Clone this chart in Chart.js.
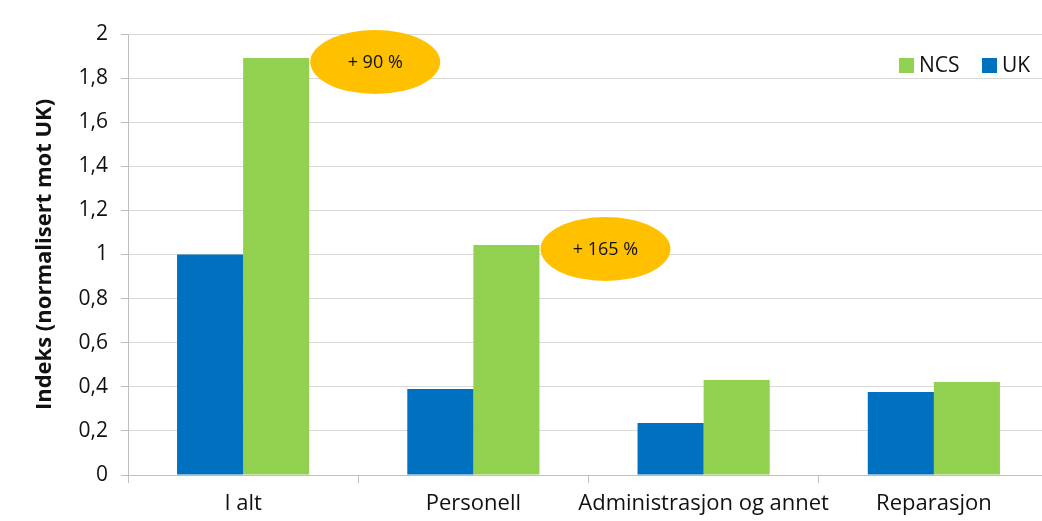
<!DOCTYPE html>
<html>
<head>
<meta charset="utf-8">
<script src="https://cdn.jsdelivr.net/npm/chart.js@4/dist/chart.umd.min.js"></script>
<style>
  html, body { margin: 0; padding: 0; background: #fff; overflow: hidden; }
  #wrap { width: 1060px; height: 521px; }
</style>
</head>
<body>
<div id="wrap"><canvas id="chart" width="1060" height="521"></canvas></div>
<script>
const kategorier = ["I alt", "Personell", "Administrasjon og annet", "Reparasjon"]
const ukVerdier = [1.0, 0.39, 0.236, 0.376]
const ncsVerdier = [1.891, 1.043, 0.431, 0.422]
const yTicks = [0, 0.2, 0.4, 0.6, 0.8, 1, 1.2, 1.4, 1.6, 1.8, 2]
const merknader = ["+ 90 %", "+ 165 %"]

const fontFam = "'Open Sans', sans-serif"

// legend + the orange ellipses
const ekstra = {
    id: "ekstra",
    afterDatasetsDraw(chart) {
        const ctx = chart.ctx
        const meta = chart.getDatasetMeta(1)
        ctx.save()
        merknader.forEach((tekst, i) => {
            const bar = meta.data[i]
            const cx = bar.x + bar.width / 2 + 66
            const cy = bar.y + 4
            ctx.beginPath()
            ctx.ellipse(cx, cy, 65, 32, 0, 0, Math.PI * 2)
            ctx.fillStyle = "#FFC000"
            ctx.fill()
            ctx.fillStyle = "#111"
            ctx.font = "18px " + fontFam
            ctx.textAlign = "center"
            ctx.textBaseline = "middle"
            ctx.fillText(tekst, cx, cy + 1)
        })

        // legend, NCS first then UK
        const items = [chart.data.datasets[1], chart.data.datasets[0]]
        let x = 899
        const y = 58
        ctx.font = "21px " + fontFam
        ctx.textAlign = "left"
        ctx.textBaseline = "middle"
        items.forEach(ds => {
            ctx.fillStyle = ds.backgroundColor
            ctx.fillRect(x, y, 15, 15)
            ctx.fillStyle = "#111"
            ctx.fillText(ds.label, x + 20, y + 8)
            x += 83
        })
        ctx.restore()
    }
}

new Chart(document.getElementById("chart"), {
    type: "bar",
    data: {
        labels: kategorier,
        datasets: [{
            label: "UK",
            data: ukVerdier,
            backgroundColor: "#0070C0"
        }, {
            label: "NCS",
            data: ncsVerdier,
            backgroundColor: "#92D050"
        }]
    },
    options: {
        responsive: false,
        animation: false,
        devicePixelRatio: 1,
        categoryPercentage: 0.574,
        barPercentage: 1.0,
        layout: { padding: { left: 32, top: 34, right: 11, bottom: 0 } },
        plugins: {
            legend: { display: false },
            tooltip: { enabled: false }
        },
        scales: {
            x: {
                grid: {
                    offset: true,
                    drawOnChartArea: false,
                    drawTicks: true,
                    tickLength: 8,
                    color: "#BFBFBF"
                },
                border: { color: "#BFBFBF" },
                ticks: {
                    color: "#111",
                    font: { family: fontFam, size: 22 },
                    padding: 8,
                    maxRotation: 0,
                    autoSkip: false
                },
                afterFit(axis) { axis.height = 46 }
            },
            y: {
                min: 0,
                max: 2,
                afterBuildTicks(axis) { axis.ticks = yTicks.map(v => ({ value: v })) },
                grid: {
                    color: "#D9D9D9",
                    tickLength: 7,
                    tickColor: "#BFBFBF"
                },
                border: { color: "#BFBFBF" },
                ticks: {
                    color: "#111",
                    font: { family: fontFam, size: 21 },
                    padding: 13,
                    callback: v => String(v).replace(".", ",")
                },
                title: {
                    display: true,
                    text: "Indeks (normalisert mot UK)",
                    color: "#111",
                    font: { family: fontFam, size: 22, weight: "bold" },
                    padding: 0
                },
                afterFit(axis) { axis.width = 128 - 32 }
            }
        }
    },
    plugins: [ekstra]
})
</script>
</body>
</html>
